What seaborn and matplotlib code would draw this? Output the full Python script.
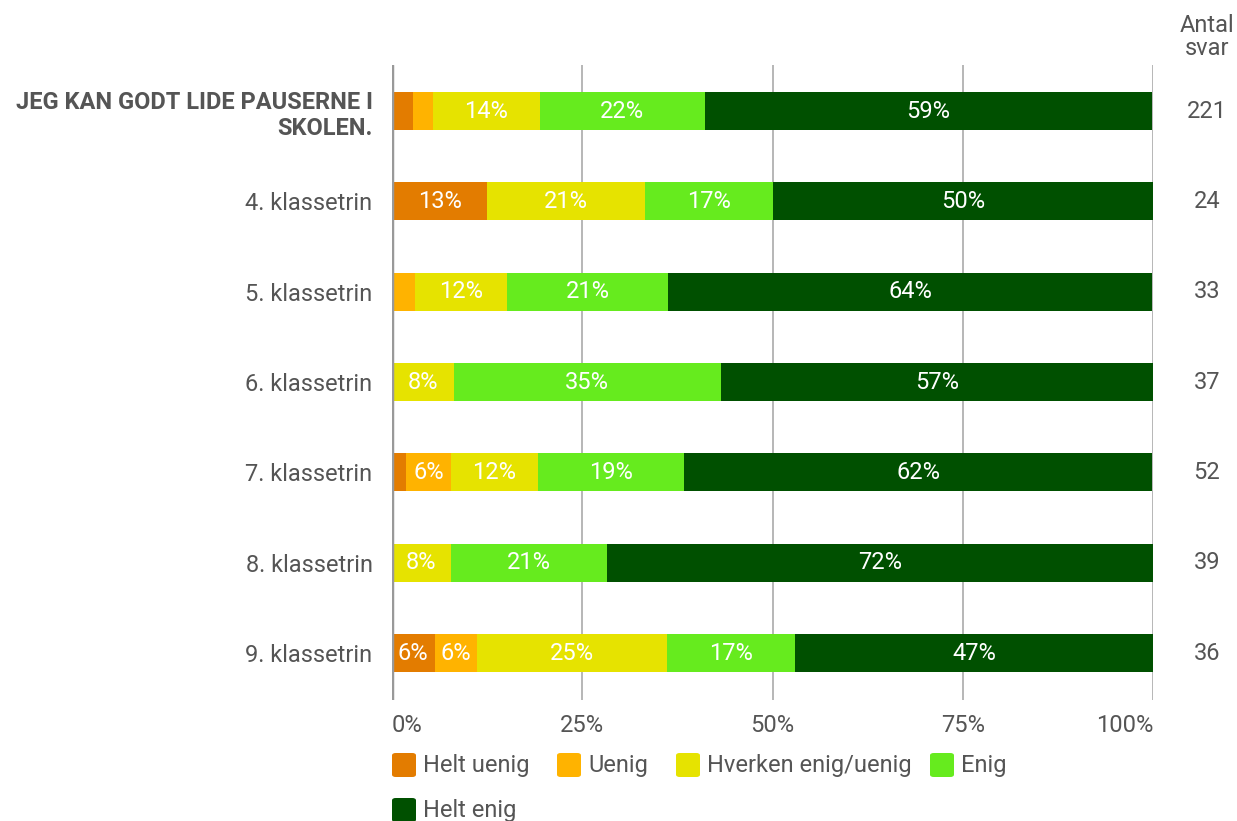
import matplotlib
matplotlib.use("Agg")
import matplotlib.pyplot as plt
import seaborn as sns
import pandas as pd
from matplotlib.patches import FancyBboxPatch

# Data (percent of answers)
rows = ["JEG KAN GODT LIDE PAUSERNE I\nSKOLEN.", "4. klassetrin", "5. klassetrin",
        "6. klassetrin", "7. klassetrin", "8. klassetrin", "9. klassetrin"]
answers = ["Helt uenig", "Uenig", "Hverken enig/uenig", "Enig", "Helt enig"]
helt_uenig = [2.7, 12.5, 0.0, 0.0, 1.9, 0.0, 5.6]
uenig = [2.7, 0.0, 3.0, 0.0, 5.8, 0.0, 5.6]
hverken = [14.0, 20.8, 12.1, 8.1, 11.5, 7.7, 25.0]
enig = [21.7, 16.7, 21.2, 35.1, 19.2, 20.5, 16.7]
helt_enig = [58.8, 50.0, 63.6, 56.8, 61.5, 71.8, 47.2]
antal_svar = [221, 24, 33, 37, 52, 39, 36]
x_ticks = [0, 25, 50, 75, 100]
x_labels = ["0%", "25%", "50%", "75%", "100%"]

colors = ["#E37C00", "#FFB300", "#E6E300", "#66EB1E", "#005000"]
text_col = "#555555"
fs = 17

sns.set_style("white")
plt.rcParams["font.family"] = ["Roboto", "DejaVu Sans"]

df = pd.DataFrame({"row": rows, "Helt uenig": helt_uenig, "Uenig": uenig,
                   "Hverken enig/uenig": hverken, "Enig": enig, "Helt enig": helt_enig})
cum = df[answers].cumsum(axis=1)

fig = plt.figure(figsize=(12.37, 8.21), dpi=100)
ax = fig.add_axes([392 / 1237, 1 - 700 / 821, (1153 - 392) / 1237, (700 - 65) / 821])

# stacked bars: draw cumulative totals from the last segment back to the first
for name, col in reversed(list(zip(answers, colors))):
    sns.barplot(x=cum[name], y=df["row"], orient="h", color=col, width=0.42,
                saturation=1, linewidth=0, ax=ax, zorder=3)

for i in range(len(rows)):
    for name in answers:
        v = df.loc[i, name]
        if v >= 5:
            ax.text(cum.loc[i, name] - v / 2, i, f"{int(v + 0.5)}%", ha="center",
                    va="center", color="white", fontsize=fs, zorder=4)

ax.set_xlim(0, 100)
ax.set_ylim(6.52, -0.51)
ax.set_xticks(x_ticks)
ax.set_xticklabels(x_labels)
for x in x_ticks[1:]:
    ax.axvline(x, color="#aaaaaa", lw=1.2, zorder=1)
ax.axvline(0, color="#999999", lw=2.5, zorder=5)
for s in ax.spines.values():
    s.set_visible(False)
ax.set_xlabel("")
ax.set_ylabel("")
ax.tick_params(axis="x", length=0, pad=10, labelsize=fs, labelcolor=text_col)
ax.tick_params(axis="y", length=0, pad=14, labelsize=fs, labelcolor=text_col)
ax.get_yticklabels()[0].set_fontweight("bold")
xt = ax.get_xticklabels()
xt[0].set_ha("left")
xt[0].set_x(-0.4)
xt[-1].set_ha("right")
xt[-1].set_x(100.4)

# answer counts on the right
for i, n in enumerate(antal_svar):
    ax.text(1.071, i, str(n), transform=ax.get_yaxis_transform(), ha="center",
            va="center", fontsize=fs, color=text_col)
fig.text(1207 / 1237, 1 - 37 / 821, "Antal\nsvar", ha="center", va="center",
         fontsize=fs, color=text_col, linespacing=1.0)

# legend drawn as rounded squares with labels
leg_pos = [(392, 753), (557, 753), (676, 753), (930, 753), (392, 798)]
for (px, py), name, col in zip(leg_pos, answers, colors):
    fig.add_artist(FancyBboxPatch((px / 1237, 1 - (py + 24) / 821), 24 / 1237, 24 / 821,
                                  boxstyle="round,pad=0,rounding_size=0.003",
                                  transform=fig.transFigure, fc=col, ec="none"))
    fig.text((px + 31) / 1237, 1 - (py + 12) / 821, name, ha="left", va="center",
             fontsize=fs, color=text_col)

fig.savefig("out.png", dpi=100)
